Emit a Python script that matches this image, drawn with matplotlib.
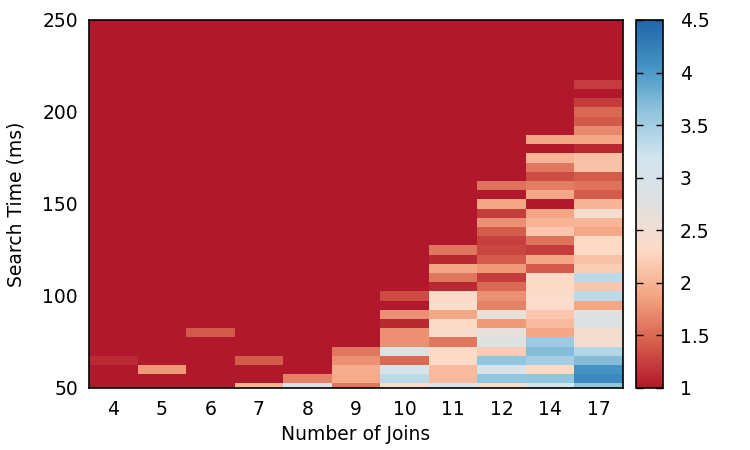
import numpy as np
import matplotlib
matplotlib.use("Agg")
import matplotlib.pyplot as plt
from matplotlib.colors import LinearSegmentedColormap

joins = ["4", "5", "6", "7", "8", "9", "10", "11", "12", "14", "17"]
# search time bins (ms), centres every 5 ms
times = list(range(50, 255, 5))
base = 1.0

# values per column, listed bottom-up from 50 ms; rows above are at the base value
col_4 = [1.0, 1.0, 1.0, 1.12]
col_5 = [1.0, 1.0, 1.8]
col_6 = [1.0, 1.0, 1.0, 1.0, 1.0, 1.0, 1.4]
col_7 = [2.0, 1.0, 1.0, 1.42]
col_8 = [3.0, 1.65]
col_9 = [1.58, 1.92, 1.95, 1.75, 1.58]
col_10 = [2.4, 3.35, 3.0, 1.5, 2.8, 1.75, 1.75, 1.1, 1.75, 1.0, 1.32]
col_11 = [3.0, 2.05, 2.05, 2.3, 2.3, 1.58, 2.4, 2.3, 1.9, 2.35, 2.3,
          1.1, 1.58, 1.9, 1.1, 1.58]
col_12 = [2.4, 3.62, 3.0, 3.62, 2.2, 2.8, 2.65, 1.8, 2.65, 1.65, 1.75,
          1.5, 1.22, 1.8, 1.4, 1.3, 1.25, 1.42, 1.75, 1.22, 1.9, 1.0, 1.55]
col_14 = [3.05, 3.62, 2.3, 3.5, 3.7, 3.55, 1.9, 2.05, 2.15, 2.35, 2.35,
          2.3, 2.3, 1.4, 1.9, 1.22, 1.55, 2.15, 2.0, 1.9, 1.0, 1.9, 1.62,
          1.32, 1.58, 2.0, 1.0, 1.9]
col_17 = [3.62, 4.15, 4.05, 3.7, 3.4, 2.45, 2.45, 2.8, 2.8, 1.9, 3.35,
          2.15, 3.35, 2.2, 2.1, 2.3, 2.3, 1.9, 2.0, 2.45, 2.0, 1.42, 1.55,
          1.42, 2.1, 2.1, 1.1, 1.9, 1.7, 1.4, 1.5, 1.22, 1.0, 1.22]

columns = [col_4, col_5, col_6, col_7, col_8, col_9, col_10, col_11,
           col_12, col_14, col_17]

grid = np.full((len(times), len(joins)), base)
for j, col in enumerate(columns):
    grid[:len(col), j] = col

palette = ["#B2182B", "#D6604D", "#F4A582", "#FDDBC7", "#E0E0E0",
           "#D1E5F0", "#92C5DE", "#4393C3", "#2166AC"]
cmap = LinearSegmentedColormap.from_list("rdbu", palette, N=256)

plt.rcParams["font.family"] = "DejaVu Sans"
plt.rcParams["font.size"] = 13.5

fig = plt.figure(figsize=(7.5, 4.5), dpi=100)
ax = fig.add_axes([0.1187, 0.1378, 0.712, 0.8178])
cax = fig.add_axes([0.848, 0.1378, 0.036, 0.8178])

x_edges = np.arange(len(joins) + 1)
y_edges = np.array(times + [times[-1] + 5]) - 2.5
mesh = ax.pcolormesh(x_edges, y_edges, grid, cmap=cmap, vmin=1, vmax=4.5)

ax.set_xlim(0, len(joins))
ax.set_ylim(50, 250)
ax.set_xticks(np.arange(len(joins)) + 0.5)
ax.set_xticklabels(joins)
ax.set_yticks([50, 100, 150, 200, 250])
ax.tick_params(axis="x", length=0, pad=9)
ax.tick_params(axis="y", length=0, pad=8)
ax.set_xlabel("Number of Joins", labelpad=4)
ax.set_ylabel("Search Time (ms)", labelpad=12)
for s in ax.spines.values():
    s.set_linewidth(1.2)

cb = fig.colorbar(mesh, cax=cax)
cb.set_ticks([1, 1.5, 2, 2.5, 3, 3.5, 4, 4.5])
cb.set_ticklabels(["1", "1.5", "2", "2.5", "3", "3.5", "4", "4.5"])
cax.tick_params(direction="in", length=5, width=1, left=True, right=True, pad=12)
cb.outline.set_linewidth(1.2)

fig.savefig("out.png", dpi=100)
